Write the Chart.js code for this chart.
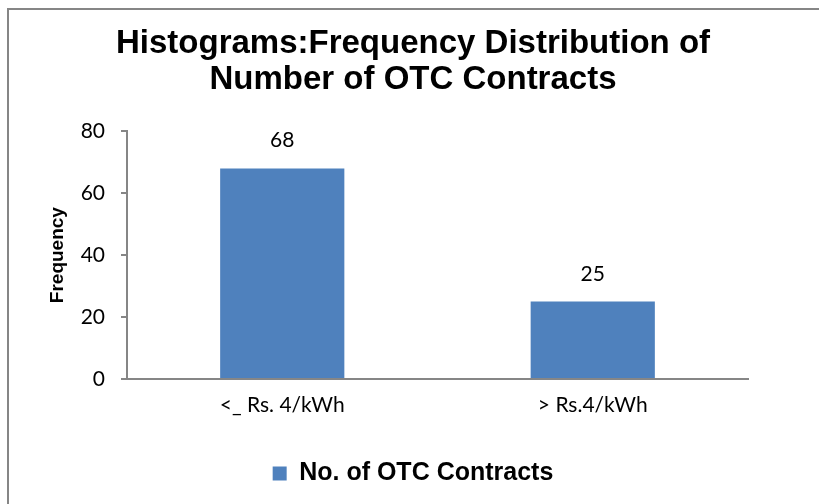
<!DOCTYPE html>
<html>
<head>
<meta charset="utf-8">
<script src="https://cdn.jsdelivr.net/npm/chart.js@4.4.1/dist/chart.umd.min.js"></script>
<style>
  html, body { margin: 0; padding: 0; background: #ffffff; }
  #wrap { position: relative; width: 819px; height: 504px; }
</style>
</head>
<body>
<div id="wrap"><canvas id="c" width="819" height="504"></canvas></div>
<script>
const titleLines = ["Histograms:Frequency Distribution of", "Number of OTC Contracts"];
const categories = ["<_ Rs. 4/kWh", "> Rs.4/kWh"];
const seriesName = "No. of OTC Contracts";
const seriesValues = [68, 25];
const yTicks = [0, 20, 40, 60, 80];
const yAxisTitle = "Frequency";

const barColor = "#4F81BD";
const axisColor = "#868686";
const tickFont = { family: "Lato, 'Open Sans', sans-serif", size: 21 };

const frame = {
  id: "frame",
  beforeDraw(chart) {
    const ctx = chart.ctx;
    ctx.save();
    ctx.fillStyle = "#ffffff";
    ctx.fillRect(0, 0, chart.width, chart.height);
    ctx.strokeStyle = axisColor;
    ctx.lineWidth = 2;
    ctx.beginPath();
    ctx.moveTo(8, chart.height + 10);
    ctx.lineTo(8, 9);
    ctx.lineTo(chart.width + 10, 9);
    ctx.stroke();
    ctx.restore();
  }
};

const valueLabels = {
  id: "valueLabels",
  afterDatasetsDraw(chart) {
    const ctx = chart.ctx;
    ctx.save();
    ctx.fillStyle = "#000000";
    ctx.font = tickFont.size + "px " + tickFont.family;
    ctx.textAlign = "center";
    ctx.textBaseline = "alphabetic";
    chart.getDatasetMeta(0).data.forEach((bar, i) => {
      ctx.fillText(String(seriesValues[i]), bar.x, bar.y - 21);
    });
    ctx.restore();
  }
};

new Chart(document.getElementById("c"), {
  type: "bar",
  data: {
    labels: categories,
    datasets: [{
      label: seriesName,
      data: seriesValues,
      backgroundColor: barColor,
      borderWidth: 0,
      categoryPercentage: 1.0,
      barPercentage: 0.4
    }]
  },
  options: {
    responsive: false,
    animation: false,
    devicePixelRatio: 1,
    layout: { padding: { left: 17, right: 10, top: 10, bottom: 8 } },
    plugins: {
      title: {
        display: true,
        text: titleLines,
        color: "#000000",
        font: { family: "'Liberation Sans', Arial, sans-serif", size: 33, weight: "bold", lineHeight: 1.08 },
        padding: { top: 16, bottom: 34 }
      },
      legend: {
        display: true,
        position: "bottom",
        labels: {
          color: "#000000",
          font: { family: "'Liberation Sans', Arial, sans-serif", size: 25, weight: "bold" },
          boxWidth: 14,
          boxHeight: 14,
          padding: 10
        }
      },
      tooltip: { enabled: false }
    },
    scales: {
      x: {
        afterFit(scale) { scale.height = 72; },
        grid: { display: true, drawOnChartArea: false, drawTicks: false },
        border: { display: true, color: axisColor, width: 2 },
        ticks: { color: "#000000", font: tickFont, padding: 14 }
      },
      y: {
        min: 0,
        max: 80,
        afterBuildTicks(scale) { scale.ticks = yTicks.map(v => ({ value: v })); },
        afterFit(scale) { scale.width = 110; },
        grid: { display: true, drawOnChartArea: false, drawTicks: true, tickLength: 6, color: axisColor, lineWidth: 2 },
        border: { display: true, color: axisColor, width: 2 },
        ticks: { color: "#000000", font: tickFont, padding: 16 },
        title: {
          display: true,
          text: yAxisTitle,
          color: "#000000",
          font: { family: "'Liberation Sans', Arial, sans-serif", size: 19, weight: "bold", lineHeight: 1.2 },
          padding: { top: 29, bottom: 0 }
        }
      },
      yRight: {
        type: "linear",
        position: "right",
        display: true,
        afterFit(scale) { scale.width = 61; },
        grid: { display: false, drawTicks: false },
        border: { display: false },
        ticks: { display: false }
      }
    }
  },
  plugins: [frame, valueLabels]
});
</script>
</body>
</html>
